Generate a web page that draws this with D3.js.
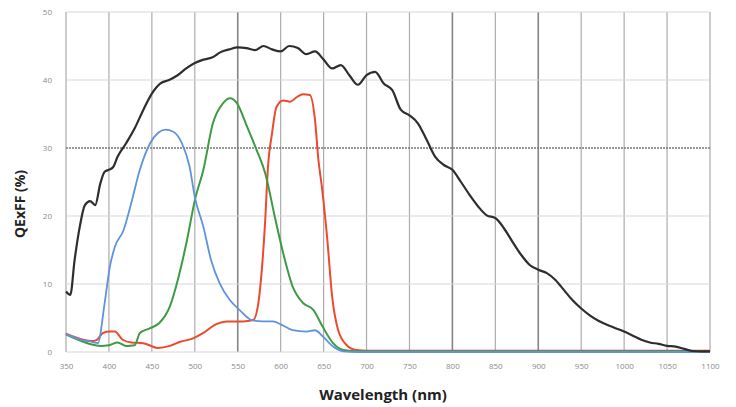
<!DOCTYPE html>
<html>
<head>
<meta charset="utf-8">
<script src="https://cdn.jsdelivr.net/npm/d3@7"></script>
<style>
  body { margin: 0; background: #fff; }
  svg { display: block; }
</style>
</head>
<body>
<svg id="svg"></svg>
<script>
// QE x FF curves, [wavelength nm, percent]
const monoQE = [[350,8.9],[355,8.4],[360,13.5],[366,18.4],[372,21.6],[378,22.2],[384,21.6],[390,24.8],[395,26.5],[400,26.8],[405,27.2],
  [410,28.7],[420,30.7],[430,32.9],[440,35.6],[450,38],[460,39.5],[470,40],[480,40.7],[490,41.7],[500,42.5],[510,43],[520,43.3],
  [530,44.1],[540,44.5],[550,44.8],[560,44.7],[570,44.4],[580,45],[590,44.5],[600,44.2],[610,45],[620,44.7],[630,43.8],[640,44.2],
  [650,43],[660,41.7],[670,42.2],[680,40.7],[690,39.3],[700,40.7],[710,41.2],[720,39.5],[730,38.5],[740,35.6],[750,34.8],[760,33.6],
  [770,31.2],[780,28.7],[790,27.5],[800,26.8],[810,25],[820,23.1],[830,21.4],[840,20.1],[850,19.7],[860,18.2],[870,16.2],[880,14.3],
  [890,12.8],[900,12.1],[910,11.6],[920,10.6],[930,9.1],[940,7.6],[950,6.4],[960,5.4],[970,4.6],[980,4],[990,3.5],[1000,3],
  [1010,2.4],[1020,1.8],[1030,1.4],[1040,1.2],[1050,0.9],[1060,0.8],[1070,0.45],[1080,0.15],[1090,0.1],[1100,0.1]];

const blueQE = [[350,2.6],[360,2.1],[370,1.7],[380,1.5],[387,1.3],[395,7.2],[401,12.5],[407,15.5],[417,17.9],[426,21.9],[436,26.8],
  [448,30.7],[457,32.2],[466,32.7],[475,32.4],[485,30.7],[494,27.2],[500,22.8],[510,18.4],[519,13.5],[529,10.1],[541,7.6],[552,6.2],
  [566,4.7],[579,4.5],[591,4.5],[601,4],[614,3.2],[630,3],[640,3.2],[649,2.3],[661,0.8],[673,0.1],[690,0],[1100,0]];

const greenQE = [[350,2.6],[360,2],[370,1.5],[380,1.1],[390,0.9],[400,1],[410,1.4],[420,0.9],[430,1],[436,2.8],[448,3.5],[459,4.3],
  [471,6.7],[481,11],[491,16.5],[500,22.3],[510,26.8],[521,33.6],[533,36.6],[541,37.3],[549,36.6],[561,33.1],[572,29.7],[582,26.3],
  [594,19.4],[603,14.5],[614,9.6],[626,7.2],[638,6.2],[649,3.7],[661,1.3],[673,0.3],[690,0.1],[1100,0.1]];

const redQE = [[350,2.7],[360,2.2],[370,1.8],[380,1.6],[386,1.8],[393,2.8],[401,3],[407,3],[416,1.8],[426,1.4],[440,1.3],[457,0.6],
  [471,0.9],[483,1.5],[498,2],[510,2.8],[525,4.1],[537,4.5],[556,4.5],[568,4.7],[574,7.2],[578,12],[582,19.4],[585,26.8],[590,32.2],
  [595,36],[603,37],[611,36.8],[619,37.5],[626,37.9],[634,37.8],[640,34.1],[644,28.2],[648,24.3],[654,17],[660,8.1],[667,3.2],
  [677,1],[688,0.3],[700,0.2],[1100,0.2]];

const xTicks = [350,400,450,500,550,600,650,700,750,800,850,900,950,1000,1050,1100];
const yTicks = [0,10,20,30,40,50];

const width = 736, height = 407;
const margin = {top: 12, right: 26, bottom: 55, left: 66};

let svg = d3.select("#svg").attr("width", width).attr("height", height);

let x = d3.scaleLinear().domain([350, 1100]).range([margin.left, width - margin.right]);
let y = d3.scaleLinear().domain([0, 50]).range([height - margin.bottom, margin.top]);

// vertical grid, a few of them are drawn darker in the picture
const darkLines = [550, 800, 900];
svg.append("g").selectAll("line")
  .data(xTicks)
  .join("line")
  .attr("x1", d => x(d)).attr("x2", d => x(d))
  .attr("y1", y(50)).attr("y2", y(0))
  .attr("stroke", d => darkLines.includes(d) ? "#858585" : "#acacac")
  .attr("stroke-width", d => darkLines.includes(d) ? 1.6 : 1.2);

// horizontal grid, 30% is dotted
svg.append("g").selectAll("line")
  .data(yTicks)
  .join("line")
  .attr("x1", x(350)).attr("x2", x(1100))
  .attr("y1", d => y(d)).attr("y2", d => y(d))
  .attr("stroke", d => d == 30 ? "#777" : "#d8d8d8")
  .attr("stroke-width", d => d == 30 ? 1.4 : 1.2)
  .attr("stroke-dasharray", d => d == 30 ? "2,1" : null);

// tick labels
let xAxis = d3.axisBottom(x).tickValues(xTicks).tickFormat(d3.format("d")).tickSize(0).tickPadding(11);
let gx = svg.append("g").attr("transform", `translate(0,${y(0)})`).call(xAxis);
gx.select(".domain").remove();
gx.selectAll("text").attr("fill", "#8a8a8a").style("font-family", "Open Sans").style("font-size", "8px");

let yAxis = d3.axisLeft(y).tickValues(yTicks).tickSize(0).tickPadding(14);
let gy = svg.append("g").attr("transform", `translate(${margin.left},0)`).call(yAxis);
gy.select(".domain").remove();
gy.selectAll("text").attr("fill", "#8a8a8a").style("font-family", "Open Sans").style("font-size", "8px");

let line = d3.line()
  .x(d => x(d[0]))
  .y(d => y(d[1]))
  .curve(d3.curveMonotoneX);

const series = [
  {data: redQE, color: "#ec4a2e", w: 2},
  {data: greenQE, color: "#3e9a44", w: 2},
  {data: blueQE, color: "#5f93dc", w: 1.8},
  {data: monoQE, color: "#2e2e2e", w: 2.2}
];

svg.append("g").selectAll("path")
  .data(series)
  .join("path")
  .attr("d", d => line(d.data))
  .attr("fill", "none")
  .attr("stroke", d => d.color)
  .attr("stroke-width", d => d.w)
  .attr("stroke-linejoin", "round");

// axis titles
svg.append("text")
  .attr("x", 383).attr("y", 400)
  .attr("text-anchor", "middle")
  .style("font-family", "Open Sans").style("font-weight", "bold").style("font-size", "15px")
  .attr("fill", "#222")
  .text("Wavelength (nm)");

svg.append("text")
  .attr("transform", "translate(25,204) rotate(-90)")
  .attr("text-anchor", "middle")
  .style("font-family", "Open Sans").style("font-weight", "bold").style("font-size", "14px")
  .attr("fill", "#222")
  .text("QExFF (%)");
</script>
</body>
</html>
